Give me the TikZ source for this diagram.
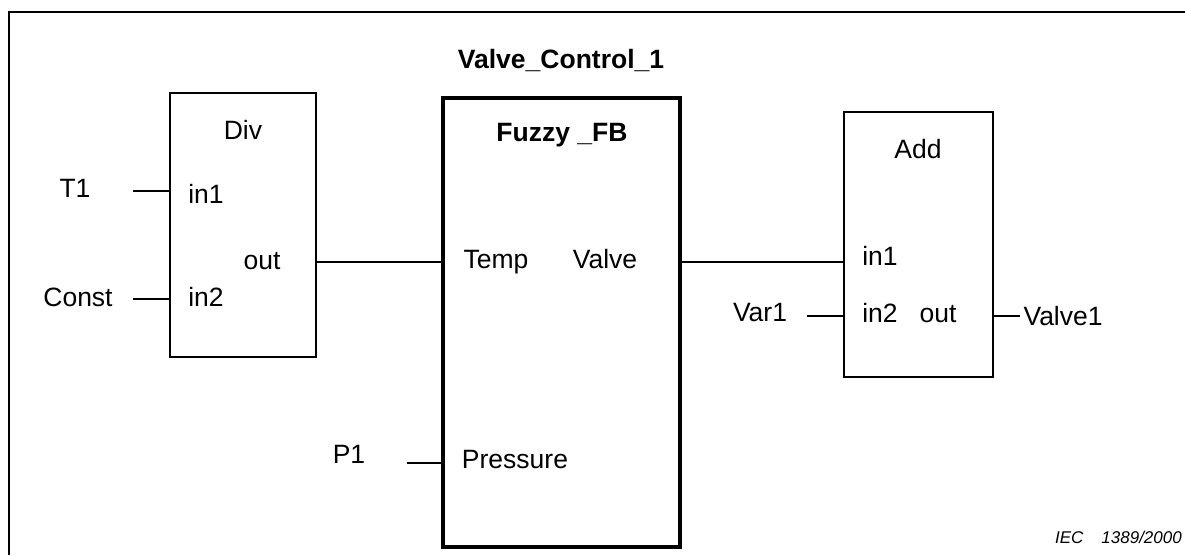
\documentclass[tikz,border=0pt]{standalone}
\usepackage{fontspec}
\setmainfont{Liberation Sans}
\usetikzlibrary{positioning}

\begin{document}
\begin{tikzpicture}[
  x=1pt, y=-1pt,
  font=\fontsize{26.5}{30}\selectfont,
  box/.style={draw, line width=2pt, inner sep=0pt},
  fbbox/.style={draw, line width=4.5pt, inner sep=0pt},
  lbl/.style={anchor=base},
  title/.style={anchor=base, font=\fontsize{26.5}{30}\selectfont\bfseries},
  wire/.style={line width=2pt},
  frame/.style={line width=2pt},
  note/.style={font=\fontsize{17}{20}\selectfont\itshape, inner sep=0pt}
]
\useasboundingbox (0,0) rectangle (1185,555);

% Frame
\draw[frame] (9,555) -- (9,12) -- (1185,12);

% Blocks
\node[title] (fbinst) at (561,68) {Valve\_Control\_1};
\node[box, minimum width=146pt, minimum height=264pt] (divbox) at (243,225) {};
\node[fbbox, minimum width=237pt, minimum height=449pt] (fuzzybox) at (561.5,322.5) {};
\node[box, minimum width=149pt, minimum height=265pt] (addbox) at (918.5,244.5) {};

% Div
\node[lbl] (divname) at (243,139) {Div};
\node[lbl] (divin1) at (206,203) {in1};
\node[lbl] (divin2) at (206,306) {in2};
\node[lbl] (divout) at (262,269) {out};

% Fuzzy_FB
\node[title] (fuzzyname) at (562,141) {Fuzzy \_FB};
\node[lbl] (fuzzytemp) at (496,268) {Temp};
\node[lbl] (fuzzyvalve) at (605,268) {Valve};
\node[lbl] (fuzzypress) at (515,468) {Pressure};

% Add
\node[lbl] (addname) at (918,158) {Add};
\node[lbl] (addin1) at (880,265) {in1};
\node[lbl] (addin2) at (880,322) {in2};
\node[lbl] (addout) at (938,322) {out};

% Variables
\node[lbl] (t1) at (75,197) {T1};
\node[lbl] (const) at (78,306) {Const};
\node[lbl] (p1) at (349,463) {P1};
\node[lbl] (var1) at (760,321) {Var1};
\coordinate (t1pin) at (133,191);
\coordinate (constpin) at (133,299);
\coordinate (p1pin) at (407,463);
\coordinate (varpin) at (807,316);
\coordinate (valvepin) at (1020,316);
\node[right=0pt of valvepin] (valve1) {Valve1};

\draw[wire] (t1pin) -- (divbox.west |- t1pin);
\draw[wire] (constpin) -- (divbox.west |- constpin);
\draw[wire] (divbox.east |- 0,262) -- (fuzzybox.west |- 0,262);
\draw[wire] (p1pin) -- (fuzzybox.west |- p1pin);
\draw[wire] (fuzzybox.east |- 0,262) -- (addbox.west |- 0,262);
\draw[wire] (varpin) -- (addbox.west |- varpin);
\draw[wire] (addbox.east |- valvepin) -- (valvepin);

\node[note, anchor=base east] (iecnote) at (1182,543) {IEC\hspace{18pt}1389/2000};

\end{tikzpicture}
\end{document}
